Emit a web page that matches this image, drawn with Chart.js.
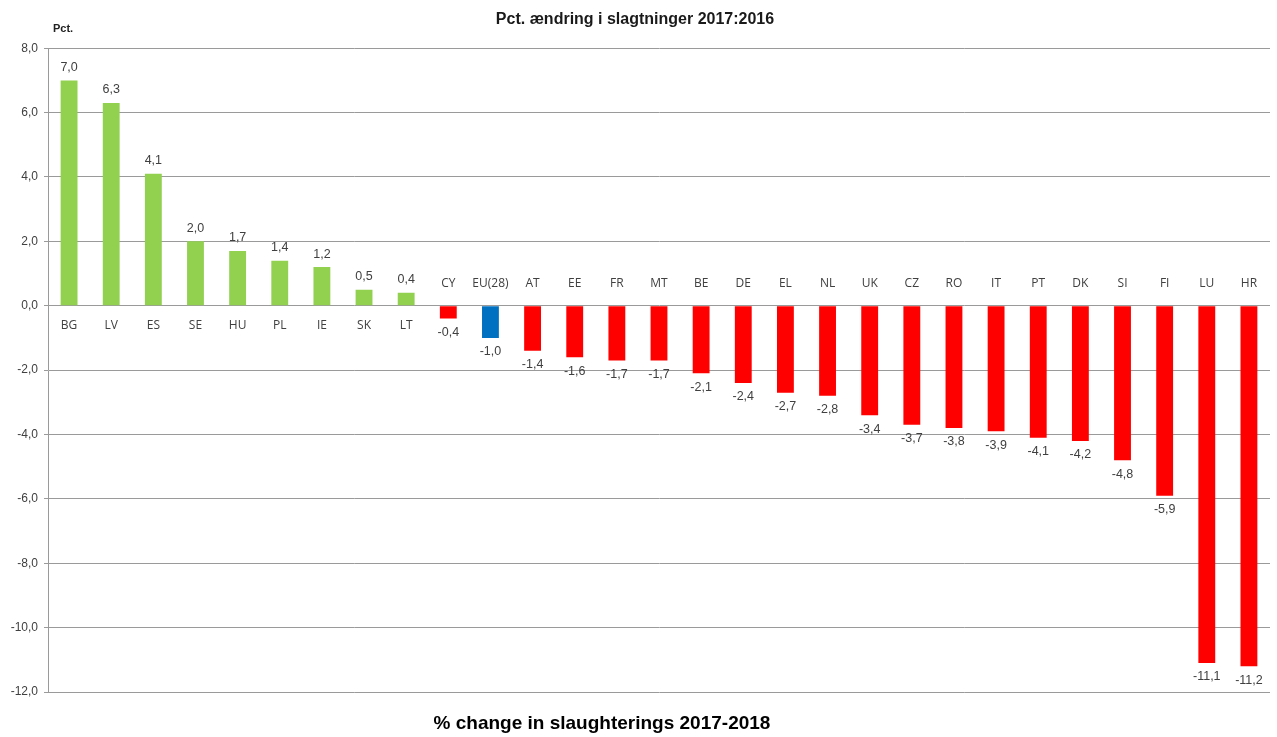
<!DOCTYPE html>
<html>
<head>
<meta charset="utf-8">
<script src="https://cdn.jsdelivr.net/npm/chart.js@4"></script>
<style>
  html, body { margin: 0; padding: 0; background: #fff; }
  #wrap { position: relative; width: 1277px; height: 737px; }
  #caption { position: absolute; left: 0; width: 1204px; top: 712px; text-align: center;
    font: bold 19px "Liberation Sans", Arial, sans-serif; color: #000; }
</style>
</head>
<body>
<div id="wrap">
  <canvas id="c" width="1277" height="737"></canvas>
  <div id="caption">% change in slaughterings 2017-2018</div>
</div>
<script>
const categories = ["BG","LV","ES","SE","HU","PL","IE","SK","LT","CY","EU(28)","AT","EE","FR","MT","BE","DE","EL","NL","UK","CZ","RO","IT","PT","DK","SI","FI","LU","HR"];
const values = [7.0,6.3,4.1,2.0,1.7,1.4,1.2,0.5,0.4,-0.4,-1.0,-1.4,-1.6,-1.7,-1.7,-2.1,-2.4,-2.7,-2.8,-3.4,-3.7,-3.8,-3.9,-4.1,-4.2,-4.8,-5.9,-11.1,-11.2];
const yTicks = [-12,-10,-8,-6,-4,-2,0,2,4,6,8];
const chartTitle = "Pct. ændring i slagtninger 2017:2016";
const yUnit = "Pct.";

const fmt = v => v.toFixed(1).replace('.', ',');
const colors = categories.map((c, i) => c === "EU(28)" ? "#0070C0" : (values[i] >= 0 ? "#92D050" : "#FF0000"));

const labelPlugin = {
  id: 'labels',
  afterDatasetsDraw(chart) {
    const ctx = chart.ctx;
    const meta = chart.getDatasetMeta(0);
    const ys = chart.scales.y;
    const zeroY = ys.getPixelForValue(0);
    ctx.save();
    ctx.textAlign = 'center';
    ctx.textBaseline = 'middle';
    meta.data.forEach((bar, i) => {
      const v = values[i];
      ctx.fillStyle = '#404040';
      ctx.font = '12.5px "Liberation Sans", Arial, sans-serif';
      const ly = v >= 0 ? bar.y - 13 : bar.y + 14;
      ctx.fillText(fmt(v), bar.x, ly);
      ctx.font = '12px "Open Sans", sans-serif';
      const cy = v >= 0 ? zeroY + 20 : zeroY - 22;
      ctx.fillText(categories[i], bar.x, cy);
    });
    ctx.textAlign = 'left';
    ctx.fillStyle = '#222';
    ctx.font = 'bold 11px "Liberation Sans", Arial, sans-serif';
    ctx.fillText(yUnit, 53, 29);
    ctx.restore();
  }
};

new Chart(document.getElementById('c'), {
  type: 'bar',
  data: {
    labels: categories,
    datasets: [{
      data: values,
      backgroundColor: colors,
      barPercentage: 0.4,
      categoryPercentage: 1.0
    }]
  },
  options: {
    responsive: false,
    animation: false,
    layout: { padding: { left: 0, right: 7, top: 0, bottom: 45 } },
    plugins: {
      legend: { display: false },
      tooltip: { enabled: false },
      title: {
        display: true,
        text: chartTitle,
        color: '#1a1a1a',
        font: { family: '"Liberation Sans", Arial, sans-serif', size: 16, weight: 'bold' },
        padding: { top: 10, bottom: 19 }
      }
    },
    scales: {
      x: {
        display: false,
        grid: { display: false }
      },
      y: {
        min: -12,
        max: 8,
        afterFit(scale) { scale.width = 48; },
        afterBuildTicks(scale) { scale.ticks = yTicks.map(v => ({ value: v })); },
        ticks: {
          color: '#404040',
          font: { family: '"Liberation Sans", Arial, sans-serif', size: 12 },
          padding: 6,
          callback: v => fmt(v)
        },
        grid: { color: '#9a9a9a', lineWidth: 1, tickLength: 4, drawTicks: true },
        border: { display: true, color: '#9a9a9a', width: 1 }
      }
    }
  },
  plugins: [labelPlugin]
});
</script>
</body>
</html>
